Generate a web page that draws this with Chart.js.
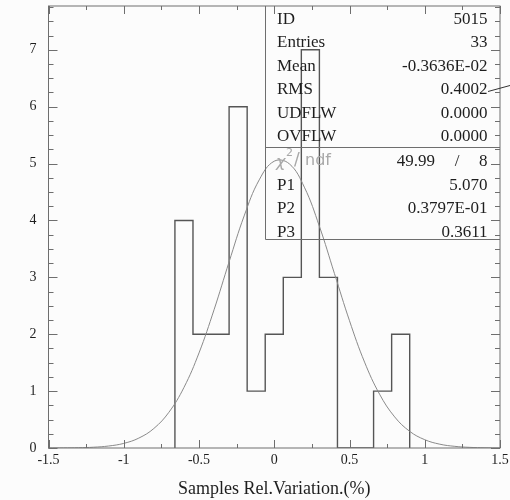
<!DOCTYPE html>
<html>
<head>
<meta charset="utf-8">
<script src="https://cdn.jsdelivr.net/npm/chart.js@4.4.0/dist/chart.umd.min.js"></script>
<style>
  html, body { margin: 0; padding: 0; background: #fcfcfc; }
  #wrap { width: 510px; height: 500px; }
</style>
</head>
<body>
<div id="wrap"><canvas id="myChart" width="510" height="500"></canvas></div>
<script>
// Histogram 5015 - bin edges and counts (bin width 0.12)
const binEdges = [-0.66, -0.54, -0.42, -0.30, -0.18, -0.06, 0.06, 0.18, 0.30, 0.42, 0.54, 0.66, 0.78, 0.90];
const binCounts = [4, 2, 2, 6, 1, 2, 3, 7, 3, 0, 0, 1, 2];

// Fitted gaussian
const fitX = [-1.5, -1.4, -1.3, -1.2, -1.1, -1.0, -0.9, -0.8, -0.7, -0.6, -0.5, -0.4, -0.3, -0.2, -0.1,
  0, 0.1, 0.2, 0.3, 0.4, 0.5, 0.6, 0.7, 0.8, 0.9, 1.0, 1.1, 1.2, 1.3, 1.4, 1.5];
const fitY = [0.001, 0.002, 0.005, 0.014, 0.035, 0.081, 0.174, 0.343, 0.628, 1.064, 1.671, 2.430, 3.272, 4.080, 4.713,
  5.042, 4.996, 4.585, 3.897, 3.067, 2.237, 1.510, 0.945, 0.547, 0.293, 0.146, 0.067, 0.029, 0.011, 0.004, 0.001];

// Stats box texts
const statLabels = ['ID', 'Entries', 'Mean', 'RMS', 'UDFLW', 'OVFLW'];
const statValues = ['5015', '33', '-0.3636E-02', '0.4002', '0.0000', '0.0000'];
const fitLabels = ['P1', 'P2', 'P3'];
const fitValues = ['5.070', '0.3797E-01', '0.3611'];
const chiValue = '49.99';
const ndfValue = '8';

const xTitle = 'Samples Rel.Variation.(%)';

// build step points for the histogram
let histPoints = [{x: binEdges[0], y: 0}];
binCounts.forEach((c, i) => {
	histPoints.push({x: binEdges[i], y: c});
});
histPoints.push({x: binEdges[binEdges.length - 1], y: 0});

let fitPoints = fitX.map((x, i) => ({x: x, y: fitY[i]}));

const frameColor = '#6e6e6e';
const serif = '"Liberation Serif", "DejaVu Serif", serif';

// draws frame, inward ticks on all sides and the stats box
const hbookPlugin = {
	id: 'hbook',
	beforeDraw(chart) {
		const ctx = chart.ctx;
		ctx.save();
		ctx.fillStyle = '#fcfcfc';
		ctx.fillRect(0, 0, chart.width, chart.height);
		ctx.restore();
	},
	afterDatasetsDraw(chart) {
		const ctx = chart.ctx;
		const a = chart.chartArea;
		const xs = chart.scales.x;
		const ys = chart.scales.y;
		ctx.save();
		ctx.strokeStyle = frameColor;
		ctx.lineWidth = 1;
		ctx.strokeRect(a.left, a.top, a.right - a.left, a.bottom - a.top);

		// x ticks, every 0.25
		ctx.beginPath();
		for (let v = -1.5; v <= 1.5001; v += 0.25) {
			const px = Math.round(xs.getPixelForValue(v)) + 0.5;
			const major = Math.abs(v * 2 - Math.round(v * 2)) < 1e-6;
			const len = major ? 8 : 4;
			ctx.moveTo(px, a.bottom);
			ctx.lineTo(px, a.bottom - len);
			ctx.moveTo(px, a.top);
			ctx.lineTo(px, a.top + len);
		}
		// y ticks, every 0.25
		for (let v = 0; v <= 7.75; v += 0.25) {
			const py = Math.round(ys.getPixelForValue(v)) + 0.5;
			const major = Math.abs(v - Math.round(v)) < 1e-6;
			const len = major ? 9 : 5;
			ctx.moveTo(a.left, py);
			ctx.lineTo(a.left + len, py);
			ctx.moveTo(a.right, py);
			ctx.lineTo(a.right - len, py);
		}
		ctx.stroke();

		// stats box
		const bx = 265.5, top = a.top, div = 147.5, bot = 239.5;
		ctx.beginPath();
		ctx.moveTo(bx, top);
		ctx.lineTo(bx, bot);
		ctx.lineTo(a.right, bot);
		ctx.moveTo(bx, div);
		ctx.lineTo(a.right, div);
		ctx.stroke();

		// small line next to RMS
		ctx.strokeStyle = '#333';
		ctx.beginPath();
		ctx.moveTo(488, 91.5);
		ctx.lineTo(510, 85.5);
		ctx.stroke();

		ctx.fillStyle = '#1e1e1e';
		ctx.font = '17px ' + serif;
		ctx.textBaseline = 'middle';
		statLabels.forEach((t, i) => {
			const y = 19.5 + i * 23.4;
			ctx.textAlign = 'left';
			ctx.fillText(t, 277, y);
			ctx.textAlign = 'right';
			ctx.fillText(statValues[i], 487.5, y);
		});
		fitLabels.forEach((t, i) => {
			const y = 185.5 + i * 23.5;
			ctx.textAlign = 'left';
			ctx.fillText(t, 277, y);
			ctx.textAlign = 'right';
			ctx.fillText(fitValues[i], 487.5, y);
		});
		// chi2 / ndf row
		ctx.textAlign = 'right';
		ctx.fillText(chiValue, 435, 162);
		ctx.textAlign = 'center';
		ctx.fillText('/', 457, 162);
		ctx.textAlign = 'right';
		ctx.fillText(ndfValue, 487.5, 162);

		ctx.fillStyle = '#a8a8a8';
		ctx.textAlign = 'left';
		ctx.font = 'italic 16px "DejaVu Sans", sans-serif';
		ctx.fillText('\u03c7', 276, 163);
		ctx.font = '11px "DejaVu Sans", sans-serif';
		ctx.fillText('2', 286, 153);
		ctx.font = '17px "DejaVu Sans", sans-serif';
		ctx.fillText('/', 294, 161);
		ctx.font = '16px "DejaVu Sans", sans-serif';
		ctx.fillText('ndf', 305, 161);
		ctx.restore();
	}
};

const config = {
	type: 'line',
	data: {
		datasets: [{
			label: 'fit',
			data: fitPoints,
			borderColor: '#8a8a8a',
			borderWidth: 1,
			pointRadius: 0,
			tension: 0.4,
			fill: false
		}, {
			label: 'hist',
			data: histPoints,
			borderColor: '#555555',
			borderWidth: 1.4,
			pointRadius: 0,
			stepped: true,
			fill: false
		}]
	},
	options: {
		responsive: false,
		animation: false,
		events: [],
		layout: {padding: {left: 0, right: 10, top: 6, bottom: 0}},
		plugins: {legend: {display: false}, tooltip: {enabled: false}},
		scales: {
			x: {
				type: 'linear',
				min: -1.5,
				max: 1.5,
				grid: {display: false, drawTicks: false},
				border: {display: false},
				ticks: {
					stepSize: 0.5, padding: 4, color: '#1e1e1e', font: {family: serif, size: 14}, maxRotation: 0,
					callback: (v) => String(Number(v.toFixed(2)))
				},
				title: {display: true, text: xTitle, color: '#1e1e1e', font: {family: serif, size: 18}, padding: 0},
				afterFit(scale) {
					scale.height = 52;
					scale.paddingLeft = 0;
					scale.paddingRight = 0;
				}
			},
			y: {
				type: 'linear',
				min: 0,
				max: 7.77,
				grid: {display: false, drawTicks: false},
				border: {display: false},
				ticks: {stepSize: 1, padding: 12, color: '#1e1e1e', font: {family: serif, size: 14}},
				afterBuildTicks(scale) {
					scale.ticks = scale.ticks.filter(t => Math.abs(t.value - Math.round(t.value)) < 1e-6);
				},
				afterFit(scale) {
					scale.width = 48.5;
					scale.paddingTop = 0;
					scale.paddingBottom = 0;
				}
			}
		}
	},
	plugins: [hbookPlugin]
};

let myChart = new Chart(document.getElementById('myChart'), config);
</script>
</body>
</html>
